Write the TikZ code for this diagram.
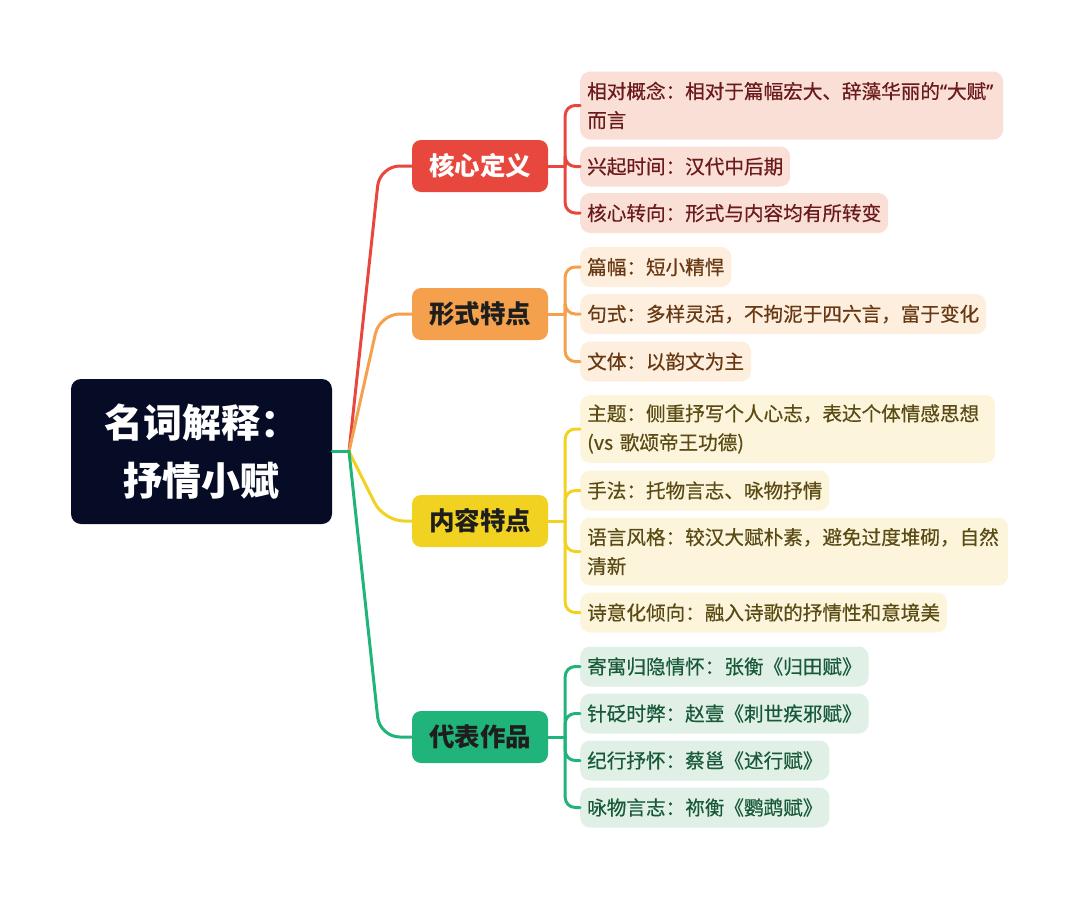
\documentclass[tikz,border=0pt]{standalone}
\usepackage{fontspec}
\setmainfont{Noto Sans CJK SC}
\newfontfamily\leaffont{Noto Sans CJK SC}[FakeBold=0.5]
\newfontfamily\latinq{Noto Sans}[FakeBold=0.5]
\definecolor{rootc}{HTML}{060C26}
\definecolor{cRed}{HTML}{E8473E}
\definecolor{cOra}{HTML}{F4A04C}
\definecolor{cYel}{HTML}{F2D220}
\definecolor{cGre}{HTML}{20B37A}
\definecolor{fRed}{HTML}{FADFD6}
\definecolor{fOra}{HTML}{FDEEDE}
\definecolor{fYel}{HTML}{FCF5DC}
\definecolor{fGre}{HTML}{E0F0E6}
\definecolor{tRed}{HTML}{6A1A1A}
\definecolor{tOra}{HTML}{683812}
\definecolor{tYel}{HTML}{5A4A14}
\definecolor{tGre}{HTML}{185A37}
\definecolor{tDark}{HTML}{1E1E1E}
\begin{document}
\begin{tikzpicture}[x=1pt,y=-1pt,
  rootbox/.style={fill=rootc, rounded corners=10pt, minimum width=261pt, minimum height=145pt, inner sep=0pt, text=white, align=center, font=\fontsize{39}{58}\selectfont\bfseries},
  mainbox/.style={rounded corners=9pt, minimum width=136pt, minimum height=52pt, inner sep=0pt, font=\fontsize{25.5}{30}\selectfont\bfseries},
  leafbox/.style={rounded corners=10pt, anchor=west, inner xsep=7pt, inner ysep=0pt, minimum height=40pt, align=left, font=\fontsize{19.6}{29}\leaffont},
  brl/.style={line width=3pt, line cap=round, line join=round}
]
\useasboundingbox (0,0) rectangle (1080,900);

% root
\node[rootbox] (root) at (201.5,451.5) {名词解释：\\抒情小赋};
\coordinate (j) at (349,451.5);

% main branches
\node[mainbox, fill=cRed, text=white] (k1) at (480,166) {核心定义};
\node[mainbox, fill=cOra, text=tDark] (k2) at (480,314) {形式特点};
\node[mainbox, fill=cYel, text=tDark] (k3) at (480,521) {内容特点};
\node[mainbox, fill=cGre, text=tDark] (k4) at (480,737) {代表作品};

% leaves red
\node[leafbox, fill=fRed, text=tRed, text width=409pt, minimum height=68pt] (l11) at (580,105.5) {相对概念：相对于篇幅宏大、辞藻华丽的{\latinq “}大赋{\latinq ”}\\而言};
\node[leafbox, fill=fRed, text=tRed] (l12) at (580,166.5) {兴起时间：汉代中后期};
\node[leafbox, fill=fRed, text=tRed] (l13) at (580,213) {核心转向：形式与内容均有所转变};

% leaves orange
\node[leafbox, fill=fOra, text=tOra] (l21) at (580,267) {篇幅：短小精悍};
\node[leafbox, fill=fOra, text=tOra] (l22) at (580,314) {句式：多样灵活，不拘泥于四六言，富于变化};
\node[leafbox, fill=fOra, text=tOra] (l23) at (580,361.5) {文体：以韵文为主};

% leaves yellow
\node[leafbox, fill=fYel, text=tYel, text width=401pt, minimum height=68pt] (l31) at (580,429) {主题：侧重抒写个人心志，表达个体情感思想\\(vs 歌颂帝王功德)};
\node[leafbox, fill=fYel, text=tYel] (l32) at (580,490.5) {手法：托物言志、咏物抒情};
\node[leafbox, fill=fYel, text=tYel, text width=414pt, minimum height=68pt] (l33) at (580,551.5) {语言风格：较汉大赋朴素，避免过度堆砌，自然\\清新};
\node[leafbox, fill=fYel, text=tYel] (l34) at (580,612.5) {诗意化倾向：融入诗歌的抒情性和意境美};

% leaves green
\node[leafbox, fill=fGre, text=tGre] (l41) at (580,666.5) {寄寓归隐情怀：张衡《归田赋》};
\node[leafbox, fill=fGre, text=tGre] (l42) at (580,713.5) {针砭时弊：赵壹《刺世疾邪赋》};
\node[leafbox, fill=fGre, text=tGre] (l43) at (580,760.5) {纪行抒怀：蔡邕《述行赋》};
\node[leafbox, fill=fGre, text=tGre] (l44) at (580,807.5) {咏物言志：祢衡《鹦鹉赋》};

% root to main connectors
\draw[brl, cRed, rounded corners=20pt] (j) -- ([xshift=-32pt]k1.west) -- (k1.west);
\draw[brl, cOra, rounded corners=20pt] (j) -- ([xshift=-32pt]k2.west) -- (k2.west);
\draw[brl, cYel, rounded corners=20pt] (j) -- ([xshift=-28pt]k3.west) -- (k3.west);
\draw[brl, cGre, rounded corners=20pt] (j) -- ([xshift=-32pt]k4.west) -- (k4.west);
\draw[brl, cGre] (root.east |- j) -- (j);

% trunks
\coordinate (t1) at ([xshift=17pt]k1.east);
\coordinate (t2) at ([xshift=17pt]k2.east);
\coordinate (t3) at ([xshift=17pt]k3.east);
\coordinate (t4) at ([xshift=17pt]k4.east);
\draw[brl, cRed] (k1.east) -- (t1);
\draw[brl, cOra] (k2.east) -- (t2);
\draw[brl, cYel] (k3.east) -- (t3);
\draw[brl, cGre] (k4.east) -- (t4);
\foreach \l in {l11,l12,l13} \draw[brl, cRed, rounded corners=10pt] (t1) |- (\l.west);
\foreach \l in {l21,l22,l23} \draw[brl, cOra, rounded corners=10pt] (t2) |- (\l.west);
\foreach \l in {l31,l32,l33,l34} \draw[brl, cYel, rounded corners=10pt] (t3) |- (\l.west);
\foreach \l in {l41,l42,l43,l44} \draw[brl, cGre, rounded corners=10pt] (t4) |- (\l.west);
\end{tikzpicture}
\end{document}
